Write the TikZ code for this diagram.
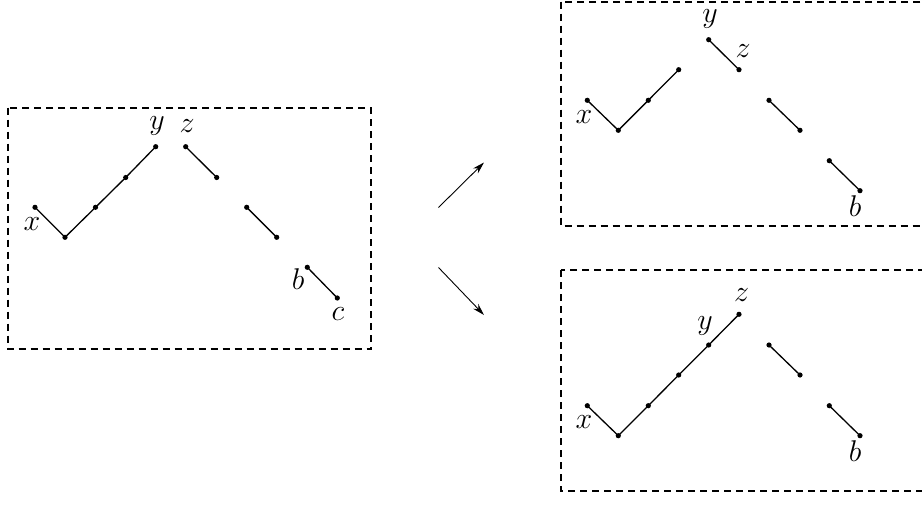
\RequirePackage{fix-cm}
\documentclass[tikz,border=0pt]{standalone}
\usetikzlibrary{arrows.meta}
\tikzset{
  frame/.style={dash pattern=on 7pt off 5pt, line width=2pt},
  seg/.style={line width=1.3pt},
  lbl/.style={inner sep=0pt, font=\fontsize{30}{34}\selectfont},
  arr/.style={line width=0.9pt, -{Stealth[length=12pt,width=7pt]}},
}
\newcommand{\dotat}[1]{\fill (#1) circle (2.6pt);}
\begin{document}
\begin{tikzpicture}[x=1pt,y=-1pt]
\useasboundingbox (0,0) rectangle (922,504);
% ---------- left box ----------
\draw[frame] (8,107.5) rectangle (371,349);
\coordinate (Lx) at (35,207.3);
\coordinate (L1) at (65,237.3);
\coordinate (L2) at (95.5,207.3);
\coordinate (L3) at (125.7,177.5);
\coordinate (Ly) at (155.7,146.7);
\coordinate (Lz) at (185.7,146.7);
\coordinate (L4) at (216.7,177.5);
\coordinate (L5) at (246.7,207.3);
\coordinate (L6) at (276.7,237.3);
\coordinate (Lb) at (307.3,267.3);
\coordinate (Lc) at (337.3,298);
\draw[seg] (Lx) -- (L1) -- (L2) -- (L3) -- (Ly);
\draw[seg] (Lz) -- (L4);
\draw[seg] (L5) -- (L6);
\draw[seg] (Lb) -- (Lc);
\foreach \p in {Lx,L1,L2,L3,Ly,Lz,L4,L5,L6,Lb,Lc} {\dotat{\p}}
\node[lbl] (lx) at (32,224) {$x$};
\node[lbl] (ly) at (157,126) {$y$};
\node[lbl] (lz) at (187,126) {$z$};
\node[lbl] (lb) at (298,279) {$b$};
\node[lbl] (lc) at (338,314) {$c$};
% ---------- arrows ----------
\coordinate (a1s) at (438.5,207.5);
\coordinate (a1e) at (484,162.5);
\coordinate (a2s) at (438.5,267.5);
\coordinate (a2e) at (484,315);
\draw[arr] (a1s) -- (a1e);
\draw[arr] (a2s) -- (a2e);
% ---------- top right box ----------
\draw[frame] (561,1.5) rectangle (930,226);
\coordinate (Tx) at (587.3,100.3);
\coordinate (T1) at (618.3,130.3);
\coordinate (T2) at (648.3,100.3);
\coordinate (T3) at (678.7,69.7);
\coordinate (Ty) at (708.7,39.7);
\coordinate (Tz) at (739,69.7);
\coordinate (T4) at (769,100.3);
\coordinate (T5) at (800,130.3);
\coordinate (T6) at (829.3,160.7);
\coordinate (Tb) at (860,190.7);
\draw[seg] (Tx) -- (T1) -- (T2) -- (T3);
\draw[seg] (Ty) -- (Tz);
\draw[seg] (T4) -- (T5);
\draw[seg] (T6) -- (Tb);
\foreach \p in {Tx,T1,T2,T3,Ty,Tz,T4,T5,T6,Tb} {\dotat{\p}}
\node[lbl] (tx) at (584,117) {$x$};
\node[lbl] (ty) at (710,19) {$y$};
\node[lbl] (tz) at (743,51) {$z$};
\node[lbl] (tb) at (855,206) {$b$};
% ---------- bottom right box ----------
\draw[frame] (561,270) rectangle (930,491);
\coordinate (Bx) at (587.3,405.7);
\coordinate (B1) at (618.3,435.7);
\coordinate (B2) at (648.3,405.7);
\coordinate (B3) at (678.7,375);
\coordinate (By) at (708.7,345);
\coordinate (Bz) at (739,314.3);
\coordinate (B4) at (769,345);
\coordinate (B5) at (800,375);
\coordinate (B6) at (829.3,405.7);
\coordinate (Bb) at (860,435.7);
\draw[seg] (Bx) -- (B1) -- (B2) -- (B3) -- (By) -- (Bz);
\draw[seg] (B4) -- (B5);
\draw[seg] (B6) -- (Bb);
\foreach \p in {Bx,B1,B2,B3,By,Bz,B4,B5,B6,Bb} {\dotat{\p}}
\node[lbl] (bx) at (584,422) {$x$};
\node[lbl] (by) at (705,326) {$y$};
\node[lbl] (bz) at (741.5,295) {$z$};
\node[lbl] (bb) at (855,451) {$b$};
\end{tikzpicture}
\end{document}
